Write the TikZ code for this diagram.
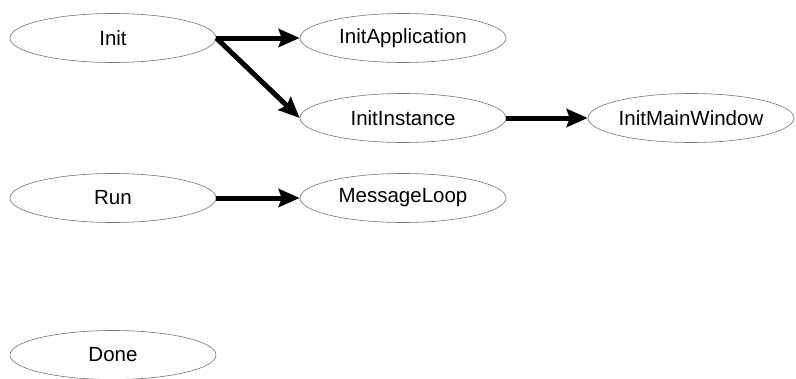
\documentclass[tikz,border=0pt]{standalone}
\usepackage{fontspec}
\setmainfont{Liberation Sans}
\usetikzlibrary{shapes.geometric,arrows.meta}
\begin{document}
\begin{tikzpicture}[x=1pt,y=-1pt,
  proc/.style={ellipse, draw=black!55, line width=0.6pt, minimum width=206pt,
    minimum height=49pt, inner sep=0pt, font=\fontsize{20.5}{25}\selectfont},
  call/.style={line width=5pt, -{Stealth[length=21pt,width=18pt,inset=3pt]}}]
  \useasboundingbox (0,0) rectangle (796,378);
  \node[proc] (init) at (113,38) {Init};
  \node[proc] (app) at (403,38) {InitApplication};
  \node[proc] (inst) at (403,118) {InitInstance};
  \node[proc] (mainwin) at (691,118) {InitMainWindow};
  \node[proc] (run) at (113,198) {Run};
  \node[proc] (loop) at (403,198) {MessageLoop};
  \node[proc] (done) at (113,355) {Done};
  \draw[call] (init.east) -- (app.west);
  \draw[call] (init.east) -- (inst.west);
  \draw[call] (inst.east) -- (mainwin.west);
  \draw[call] (run.east) -- (loop.west);
\end{tikzpicture}
\end{document}
